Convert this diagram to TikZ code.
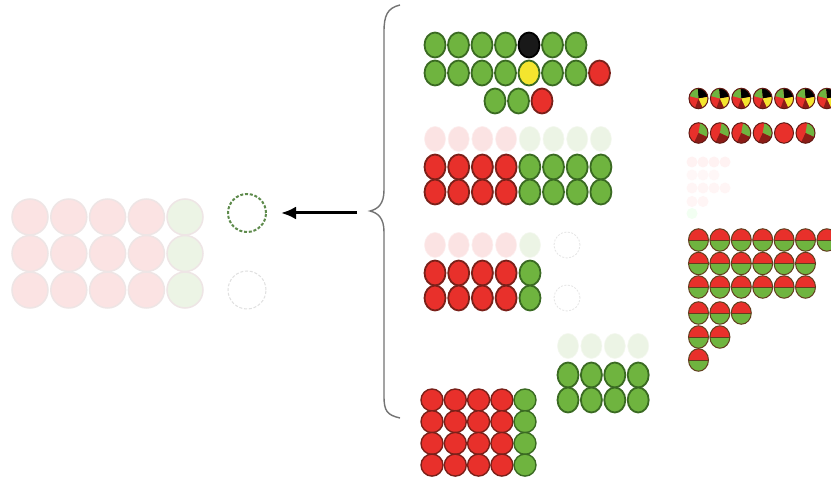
\documentclass[tikz,border=0pt]{standalone}
\usetikzlibrary{shapes.geometric,arrows.meta}

\definecolor{leafgreen}{HTML}{6FB43F}
\definecolor{leafedge}{HTML}{3A6A22}
\definecolor{cred}{HTML}{E8302B}
\definecolor{redge}{HTML}{7A2019}
\definecolor{wine}{HTML}{8C1C17}
\definecolor{lemon}{HTML}{F4E52E}
\definecolor{palered}{HTML}{FBE3E3}
\definecolor{palegreen}{HTML}{ECF4E5}
\definecolor{paleedge}{HTML}{EEE5E5}
\definecolor{holegreen}{HTML}{5E8B4C}

% one wedge of a pie, clipped by the bead it sits in
\newcommand\slice[3]{\fill[#1] (path picture bounding box.center) -- ++(#2:14pt) arc[start angle=#2, end angle=#3, radius=14pt] -- cycle;}

\tikzset{
  bead/.style={ellipse, inner sep=0pt, minimum width=21pt, minimum height=25pt, line width=1.8pt},
  gbead/.style={bead, fill=leafgreen, draw=leafedge},
  rbead/.style={bead, fill=cred, draw=redge},
  kbead/.style={bead, fill=black!90, draw=black},
  ybead/.style={bead, fill=lemon, draw=leafedge},
  prbead/.style={bead, fill=palered, draw=palered!60!white, line width=0.6pt},
  pgbead/.style={bead, fill=palegreen, draw=palegreen!60!white, line width=0.6pt},
  ball/.style={circle, inner sep=0pt, minimum size=22pt, line width=1.4pt},
  bigball/.style={circle, inner sep=0pt, minimum size=36pt, line width=1.5pt, draw=paleedge},
  hole/.style={circle, inner sep=0pt, minimum size=38pt, dash pattern=on 3pt off 1.8pt},
  smallhole/.style={circle, inner sep=0pt, minimum size=26pt, draw=black!10, line width=0.8pt, dash pattern=on 2pt off 1.5pt},
  mini/.style={circle, inner sep=0pt, minimum size=11pt, fill=#1},
  pbead/.style={ellipse, inner sep=0pt, minimum width=19pt, minimum height=20.5pt, draw=redge!80!black, line width=1pt},
  pieA/.style={pbead, path picture={
      \slice{cred}{0}{360}
      \slice{black}{10}{95}
      \slice{leafgreen}{95}{165}
      \slice{wine}{250}{295}
      \slice{lemon}{295}{370}}},
  pieB/.style={pbead, path picture={
      \slice{cred}{0}{360}
      \slice{leafgreen}{-25}{80}
      \slice{wine}{-115}{-25}}},
  pieC/.style={pbead, fill=cred},
  halfbead/.style={ellipse, inner sep=0pt, minimum width=20pt, minimum height=22.5pt, draw=redge!60!leafedge, line width=1pt,
    path picture={
      \fill[cred] (path picture bounding box.north west) rectangle (path picture bounding box.east);
      \fill[leafgreen] (path picture bounding box.west) rectangle (path picture bounding box.south east);
      \draw[redge!60!leafedge, line width=0.6pt] (path picture bounding box.west) -- (path picture bounding box.east);}}
}

\begin{document}
\begin{tikzpicture}[x=1pt,y=-1pt]
\useasboundingbox[fill=white] (0,0) rectangle (831,484);

% pale block on the left
\foreach \j in {1,2,3}{
  \foreach \i in {1,...,4}
    \node[bigball, fill=palered] (l-\j-\i) at ({30+38.8*(\i-1)},{217+36.5*(\j-1)}) {};
  \node[bigball, fill=palegreen] (l-\j-5) at (185,{217+36.5*(\j-1)}) {};
}
\node[hole, draw=holegreen, line width=2pt] (gap) at (247,213) {};
\node[hole, draw=black!12, line width=1pt] (gap2) at (247,290) {};

% brace and arrow
\draw[black!55, line width=1.4pt] (400,5) .. controls (387,8) and (384,16) .. (384,32) -- (384,190)
  .. controls (384,204) and (378,209) .. (370,211)
  .. controls (378,213) and (384,218) .. (384,232) -- (384,396)
  .. controls (384,411) and (387,415) .. (400,418);
\coordinate (tail) at (357,213);
\draw[-{Latex[length=15pt,width=13pt]}, line width=3pt, shorten >=14pt] (tail) -- (gap);

% top group
\foreach \i in {1,2,3,4,6,7}
  \node[gbead] (t1-\i) at ({435+23.5*(\i-1)},45) {};
\node[kbead] (t1-5) at (529,45) {};
\foreach \i in {1,2,3,4,6,7}
  \node[gbead] (t2-\i) at ({435+23.5*(\i-1)},73) {};
\node[ybead] (t2-5) at (529,73) {};
\node[rbead] (t2-8) at (599.5,73) {};
\node[gbead] (t3-1) at (495,101) {};
\node[gbead] (t3-2) at (518.5,101) {};
\node[rbead] (t3-3) at (542,101) {};

% second group
\foreach \i in {1,...,4}{
  \node[prbead] (s0-\i) at ({435+23.7*(\i-1)},139) {};
  \node[rbead] (s1-\i) at ({435+23.7*(\i-1)},167) {};
  \node[rbead] (s2-\i) at ({435+23.7*(\i-1)},192) {};
}
\foreach \i in {5,...,8}{
  \node[pgbead] (s0-\i) at ({435+23.7*(\i-1)},139) {};
  \node[gbead] (s1-\i) at ({435+23.7*(\i-1)},167) {};
  \node[gbead] (s2-\i) at ({435+23.7*(\i-1)},192) {};
}

% third group
\foreach \i in {1,...,4}{
  \node[prbead] (u0-\i) at ({435+23.7*(\i-1)},245) {};
  \node[rbead] (u1-\i) at ({435+23.7*(\i-1)},273) {};
  \node[rbead] (u2-\i) at ({435+23.7*(\i-1)},298) {};
}
\node[pgbead] (u0-5) at (530,245) {};
\node[gbead] (u1-5) at (530,273) {};
\node[gbead] (u2-5) at (530,298) {};
\node[smallhole] (uh-1) at (567,245) {};
\node[smallhole] (uh-2) at (567,298) {};

% green group
\foreach \i in {1,...,4}{
  \node[pgbead] (v0-\i) at ({568+23.4*(\i-1)},346) {};
  \node[gbead] (v1-\i) at ({568+23.4*(\i-1)},375) {};
  \node[gbead] (v2-\i) at ({568+23.4*(\i-1)},400) {};
}

% bottom block
\foreach \j in {1,...,4}{
  \foreach \i in {1,...,4}
    \node[ball, fill=cred, draw=redge] (w-\j-\i) at ({432+23.3*(\i-1)},{400+21.7*(\j-1)}) {};
  \node[ball, fill=leafgreen, draw=leafedge] (w-\j-5) at (525,{400+21.7*(\j-1)}) {};
}

% pies on the right
\foreach \i in {1,...,7}
  \node[pieA] (pa-\i) at ({698.5+21.4*(\i-1)},98.5) {};
\foreach \i in {1,2,3,4,6}
  \node[pieB] (pb-\i) at ({698.5+21.4*(\i-1)},133) {};
\node[pieC] (pb-5) at (784,133) {};

% faint small dots
\foreach \i in {1,...,4}{
  \node[mini=red!5] (m1-\i) at ({692+11*(\i-1)},162) {};
  \node[mini=red!4] (m3-\i) at ({692+11*(\i-1)},188) {};
}
\foreach \i in {1,2,3}
  \node[mini=red!3] (m2-\i) at ({692+11*(\i-1)},175) {};
\node[mini=red!4] (m4-1) at (692,201.5) {};
\node[mini=red!4] (m4-2) at (703,201.5) {};
\node[mini=green!5] (m5-1) at (692,213.5) {};

% half and half beads
\foreach \i in {1,...,7}
  \node[halfbead] (h1-\i) at ({698.5+21.4*(\i-1)},240) {};
\foreach \i in {1,...,6}{
  \node[halfbead] (h2-\i) at ({698.5+21.4*(\i-1)},263.5) {};
  \node[halfbead] (h3-\i) at ({698.5+21.4*(\i-1)},287) {};
}
\foreach \i in {1,2,3}
  \node[halfbead] (h4-\i) at ({698.5+21.4*(\i-1)},313) {};
\node[halfbead] (h5-1) at (698.5,337) {};
\node[halfbead] (h5-2) at (719.9,337) {};
\node[halfbead] (h6-1) at (698.5,360) {};
\end{tikzpicture}
\end{document}
